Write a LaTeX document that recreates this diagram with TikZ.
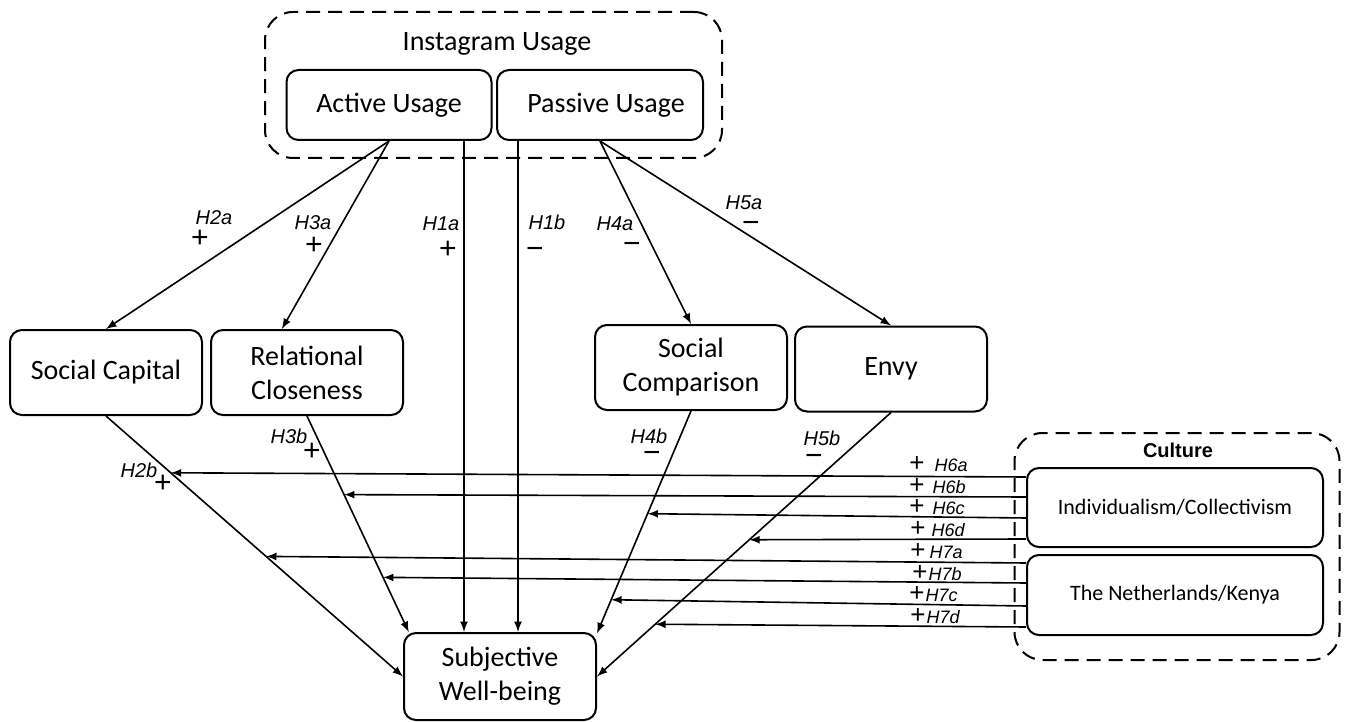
\documentclass[tikz,border=0pt]{standalone}
\usepackage{fontspec}
\setmainfont{Carlito}
\newfontfamily\arialfont{Liberation Sans}
\usetikzlibrary{positioning}

\tikzset{
  box/.style={draw, line width=1pt, rounded corners=6pt, align=center,
    minimum width=96pt, minimum height=42.5pt, inner sep=2pt,
    font=\fontsize{14}{17}\selectfont},
  group/.style={draw, line width=1pt, dash pattern=on 7pt off 4pt,
    rounded corners=14pt, inner sep=0pt},
  link/.style={-latex, line width=0.8pt},
  hyp/.style={font=\arialfont\itshape\fontsize{10}{12}\selectfont, inner sep=0pt,
    text height=7pt, text depth=0pt},
  rhyp/.style={font=\arialfont\itshape\fontsize{9}{10}\selectfont, anchor=west, inner sep=0pt,
    text height=6.5pt, text depth=0pt},
  sgn/.style={font=\arialfont\fontsize{15}{15}\selectfont, inner sep=0pt,
    text height=6pt, text depth=0pt}
}
\newcommand{\rplus}{{\upshape\fontsize{13}{13}\selectfont +}}

\begin{document}
\begin{tikzpicture}[x=0.5pt,y=-0.5pt]
\useasboundingbox (0,0) rectangle (1346,722);

% groups
\node[group, minimum width=228.5pt, minimum height=73pt] (iu) at (493.5,85) {};
\node (iutitle) at (497,44) {\fontsize{14}{16}\selectfont Instagram Usage};
\node[group, minimum width=162.5pt, minimum height=113.5pt] (cu) at (1177,546.5) {};
\node (cutitle) at (1178,450) {\arialfont\bfseries\fontsize{10}{12}\selectfont Culture};

% constructs
\node[box, minimum width=102.5pt, minimum height=35pt] (au) at (389,105) {Active Usage};
\node[box, minimum width=103pt, minimum height=35pt] (pu) at (600,105) {\hspace{6pt}Passive Usage};
\node[box] (sc) at (106,372.5) {Social Capital};
\node[box] (rc) at (307,372.5) {Relational\\Closeness};
\node[box] (cmp) at (691,367.5) {Social\\Comparison};
\node[box] (env) at (891,369) {Envy};
\node[box, minimum height=43.5pt] (swb) at (500,676.5) {Subjective\\Well-being};
\node[box, minimum width=148pt, minimum height=39.5pt, font=\fontsize{11}{13}\selectfont] (ic) at (1175,507.5) {\raisebox{-5pt}{Individualism/Collectivism}};
\node[box, minimum width=148pt, minimum height=40pt, font=\fontsize{11}{13}\selectfont] (nk) at (1175,595) {\raisebox{-3pt}{The Netherlands/Kenya}};

% direct paths
\path[link]
(au.south) edge (sc.north)
           edge (rc.120)
([xshift=37.5pt]au.south) edge ([xshift=37.5pt]au.south |- swb.north)
([xshift=-41pt]pu.south) edge ([xshift=-41pt]pu.south |- swb.north)
(pu.south) edge (cmp.north)
           edge (env.north)
(sc.south) edge (swb.west)
(rc.south) edge (swb.154)
(cmp.south) edge (swb.24)
(env.south) edge (swb.east);

% moderation points
\path (sc.south) -- (swb.west) coordinate[pos=0.218] (m6a) coordinate[pos=0.539] (m7a);
\path (rc.south) -- (swb.154) coordinate[pos=0.364] (m6b) coordinate[pos=0.747] (m7b);
\path (cmp.south) -- (swb.24) coordinate[pos=0.462] (m6c) coordinate[pos=0.849] (m7c);
\path (env.south) -- (swb.east) coordinate[pos=0.482] (m6d) coordinate[pos=0.802] (m7d);

\path[link]
([yshift=15.25pt]ic.west) edge (m6a)
([yshift=5.25pt]ic.west) edge (m6b)
([yshift=-5.25pt]ic.west) edge (m6c)
([yshift=-15.75pt]ic.west) edge (m6d)
([yshift=16pt]nk.west) edge (m7a)
([yshift=6pt]nk.west) edge (m7b)
([yshift=-5.5pt]nk.west) edge (m7c)
([yshift=-16pt]nk.west) edge (m7d);

% hypotheses
\node[hyp] (h2a) at (214,218) {H2a};
\node[sgn] (s2a) at (200,242) {+};
\node[hyp] (h3a) at (313,223) {H3a};
\node[sgn] (s3a) at (314,249) {+};
\node[hyp] (h1a) at (441,224) {H1a};
\node[sgn] (s1a) at (448,253) {+};
\node[hyp] (h1b) at (547,222) {H1b};
\node[sgn] (s1b) at (535,253) {−};
\node[hyp] (h4a) at (615,224) {H4a};
\node[sgn] (s4a) at (632,248) {−};
\node[hyp] (h5a) at (744,203) {H5a};
\node[sgn] (s5a) at (751,227) {−};
\node[hyp] (h2b) at (139,470) {H2b};
\node[sgn] (s2b) at (163,486) {+};
\node[hyp] (h3b) at (289,436) {H3b};
\node[sgn] (s3b) at (312,454) {+};
\node[hyp] (h4b) at (649,436) {H4b};
\node[sgn] (s4b) at (652,456) {−};
\node[hyp] (h5b) at (822,438) {H5b};
\node[sgn] (s5b) at (814,460) {−};

\node[rhyp] (h6a) at (909,465) {\rplus\hspace{5pt}H6a};
\node[rhyp] (h6b) at (909,487) {\rplus\hspace{4pt}H6b};
\node[rhyp] (h6c) at (909,508) {\rplus\hspace{4pt}H6c};
\node[rhyp] (h6d) at (910,530) {\rplus\hspace{3pt}H6d};
\node[rhyp] (h7a) at (910,552) {\rplus\hspace{2pt}H7a};
\node[rhyp] (h7b) at (912,574) {\rplus\hspace{0.5pt}H7b};
\node[rhyp] (h7c) at (909,595) {\rplus\hspace{0.5pt}H7c};
\node[rhyp] (h7d) at (910,617) {\rplus\hspace{0.5pt}H7d};

\end{tikzpicture}
\end{document}
